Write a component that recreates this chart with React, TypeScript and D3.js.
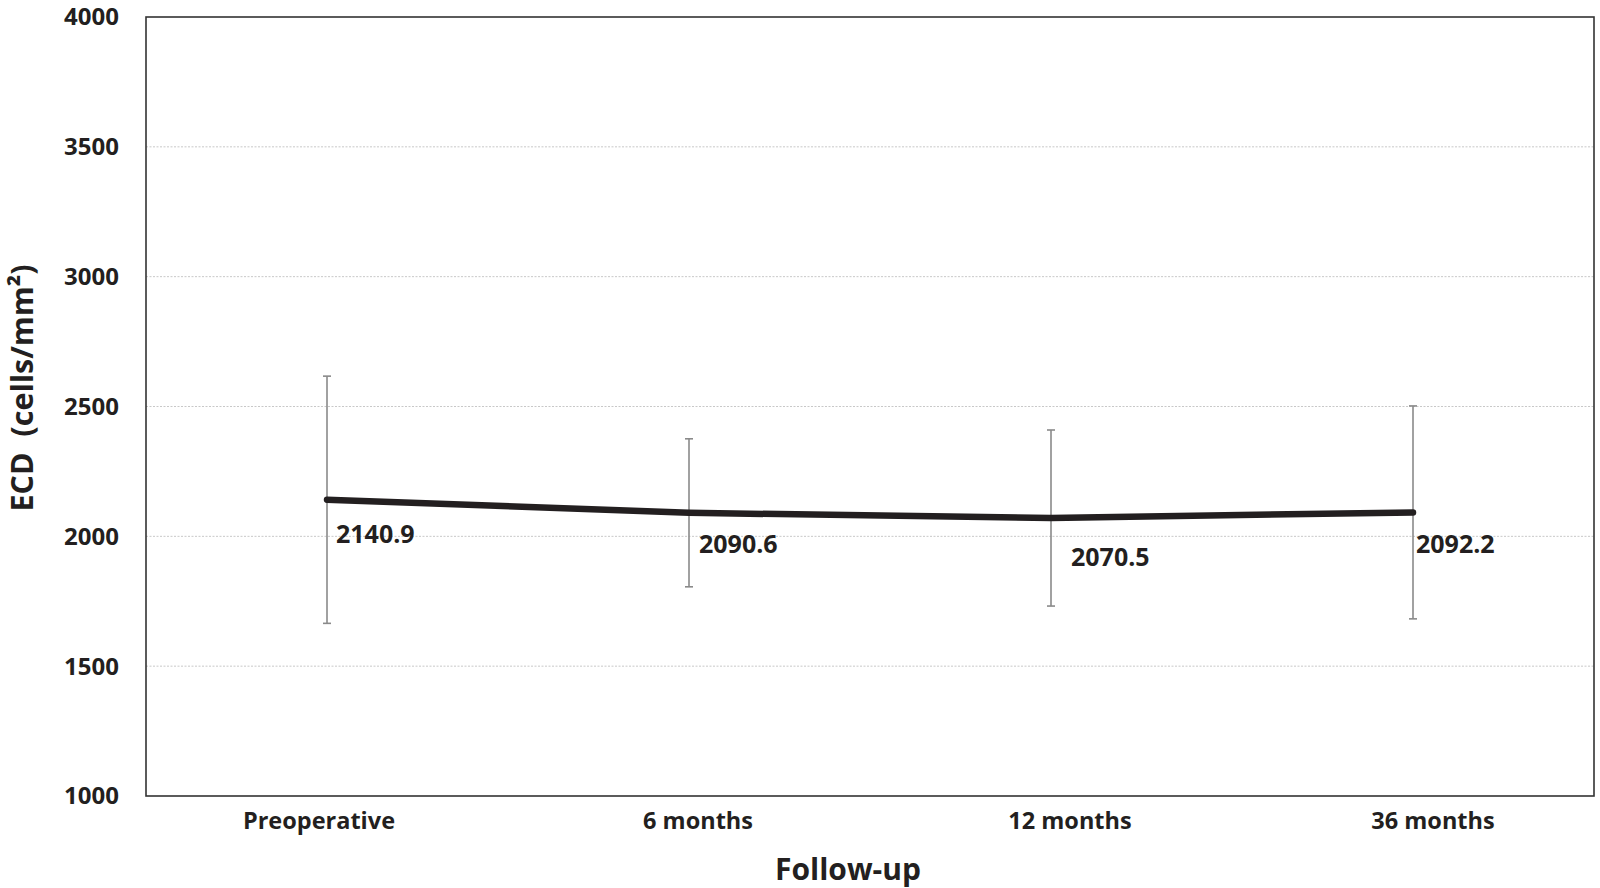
import * as d3 from 'd3';

// Follow-up time points and endothelial cell density (mean ± SD)
const categories = ['Preoperative', '6 months', '12 months', '36 months'];
const meanEcd = [2140.9, 2090.6, 2070.5, 2092.2];
const sdEcd = [476, 285, 339, 410];
const yTicks = [1000, 1500, 2000, 2500, 3000, 3500, 4000];

const App = () => {
  const width = 1600;
  const height = 888;
  const marginTop = 17;
  const marginRight = 6;
  const marginBottom = 92;
  const marginLeft = 146;
  const font = "'Open Sans', sans-serif";
  const ink = '#231f20';

  const x = d3
    .scalePoint<string>()
    .domain(categories)
    .range([marginLeft, width - marginRight])
    .padding(0.5);

  const y = d3
    .scaleLinear()
    .domain([1000, 4000])
    .range([height - marginBottom, marginTop]);

  const points = categories.map((c, i) => ({
    cat: c,
    mean: meanEcd[i],
    sd: sdEcd[i],
  }));

  const line = d3
    .line<{ cat: string; mean: number }>()
    .x((d) => x(d.cat)!)
    .y((d) => y(d.mean));

  // hand-placed offsets of the labels in the original figure
  const labelDx = [9, 10, 20, 3];
  const labelDy = [43, 40, 48, 41];
  const catDx = [-8, 9, 19, 20];

  return (
    <svg
      width={width}
      height={height}
      style={{ position: 'absolute', left: 0, top: 0, background: '#fff' }}
      fontFamily={font}
    >
      {/* gridlines */}
      {yTicks
        .filter((t) => t > 1000 && t < 4000)
        .map((t) => (
          <line
            key={t}
            x1={marginLeft}
            x2={width - marginRight}
            y1={y(t)}
            y2={y(t)}
            stroke="#c8c8c8"
            strokeWidth={1}
            strokeDasharray="2,1.5"
          />
        ))}

      {/* plot frame */}
      <rect
        x={marginLeft}
        y={marginTop}
        width={width - marginLeft - marginRight}
        height={height - marginTop - marginBottom}
        fill="none"
        stroke="#333"
        strokeWidth={1.6}
      />

      {/* y tick labels */}
      {yTicks.map((t) => (
        <text
          key={t}
          x={119}
          y={y(t)}
          dy="0.35em"
          textAnchor="end"
          fontSize={24}
          fontWeight="bold"
          fill={ink}
        >
          {t}
        </text>
      ))}

      {/* category labels */}
      {categories.map((c, i) => (
        <text
          key={c}
          x={x(c)! + catDx[i]}
          y={829}
          textAnchor="middle"
          fontSize={23.5}
          fontWeight="bold"
          fill={ink}
        >
          {c}
        </text>
      ))}

      {/* error bars */}
      {points.map((d) => {
        const cx = x(d.cat)!;
        const top = y(d.mean + d.sd);
        const bot = y(d.mean - d.sd);
        return (
          <g key={d.cat} stroke="#8a8a8a" strokeWidth={1.6}>
            <line x1={cx} x2={cx} y1={top} y2={bot} />
            <line x1={cx - 4} x2={cx + 4} y1={top} y2={top} />
            <line x1={cx - 4} x2={cx + 4} y1={bot} y2={bot} />
          </g>
        );
      })}

      {/* mean line */}
      <path
        d={line(points)!}
        fill="none"
        stroke={ink}
        strokeWidth={6.5}
        strokeLinecap="round"
        strokeLinejoin="round"
      />

      {/* value labels */}
      {points.map((d, i) => (
        <text
          key={d.cat}
          x={x(d.cat)! + labelDx[i]}
          y={y(d.mean) + labelDy[i]}
          fontSize={25}
          fontWeight="bold"
          fill={ink}
        >
          {d.mean.toFixed(1)}
        </text>
      ))}

      {/* axis titles */}
      <text
        x={848}
        y={880}
        textAnchor="middle"
        fontSize={30}
        fontWeight="bold"
        fill={ink}
      >
        Follow-up
      </text>
      <text
        transform="translate(33,388) rotate(-90)"
        textAnchor="middle"
        fontSize={30.5}
        fontWeight="bold"
        fill={ink}
        style={{ whiteSpace: 'pre' }}
      >
        {'ECD  (cells/mm²)'}
      </text>
    </svg>
  );
};

export default App;
